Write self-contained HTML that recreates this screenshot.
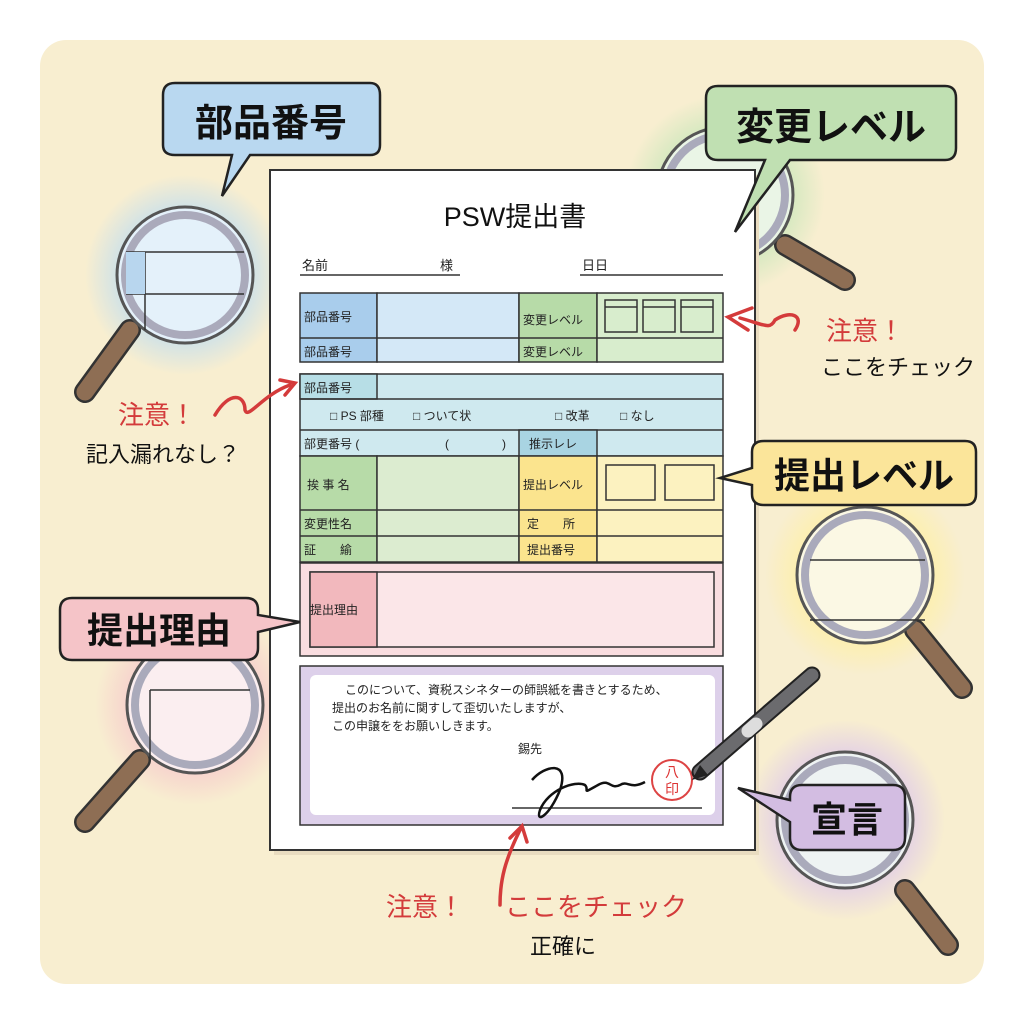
<!DOCTYPE html>
<html><head><meta charset="utf-8"><style>
html,body{margin:0;padding:0;background:#fff;}
svg{display:block}
text{font-family:"Liberation Sans","Noto Sans CJK JP",sans-serif;}
</style></head><body>
<svg width="1024" height="1024" viewBox="0 0 1024 1024" xmlns="http://www.w3.org/2000/svg">
<defs>
<radialGradient id="gb"><stop offset="0.6" stop-color="#bcdcf2" stop-opacity="0.8"/><stop offset="1" stop-color="#bcdcf2" stop-opacity="0"/></radialGradient>
<radialGradient id="gg"><stop offset="0.6" stop-color="#c5e6b8" stop-opacity="0.8"/><stop offset="1" stop-color="#c5e6b8" stop-opacity="0"/></radialGradient>
<radialGradient id="gy"><stop offset="0.6" stop-color="#fff0a0" stop-opacity="0.8"/><stop offset="1" stop-color="#fff0a0" stop-opacity="0"/></radialGradient>
<radialGradient id="gp"><stop offset="0.6" stop-color="#f6c6cc" stop-opacity="0.8"/><stop offset="1" stop-color="#f6c6cc" stop-opacity="0"/></radialGradient>
<radialGradient id="gv"><stop offset="0.6" stop-color="#dcc6ec" stop-opacity="0.8"/><stop offset="1" stop-color="#dcc6ec" stop-opacity="0"/></radialGradient>
</defs>
<rect x="40" y="40" width="944" height="944" rx="26" fill="#f8eed0"/>

<!-- glows -->
<circle cx="185" cy="275" r="100" fill="url(#gb)"/>
<circle cx="725" cy="195" r="100" fill="url(#gg)"/>
<circle cx="865" cy="575" r="100" fill="url(#gy)"/>
<circle cx="195" cy="705" r="100" fill="url(#gp)"/>
<circle cx="845" cy="820" r="100" fill="url(#gv)"/>

<!-- handles -->
<g stroke-linecap="round">
<line x1="130" y1="330" x2="85" y2="392" stroke="#333" stroke-width="22"/><line x1="130" y1="330" x2="85" y2="392" stroke="#8e6e54" stroke-width="17"/>
<line x1="785" y1="245" x2="845" y2="280" stroke="#333" stroke-width="22"/><line x1="785" y1="245" x2="845" y2="280" stroke="#8e6e54" stroke-width="17"/>
<line x1="915" y1="630" x2="962" y2="688" stroke="#333" stroke-width="22"/><line x1="915" y1="630" x2="962" y2="688" stroke="#8e6e54" stroke-width="17"/>
<line x1="140" y1="760" x2="85" y2="822" stroke="#333" stroke-width="22"/><line x1="140" y1="760" x2="85" y2="822" stroke="#8e6e54" stroke-width="17"/>
<line x1="905" y1="890" x2="948" y2="945" stroke="#333" stroke-width="22"/><line x1="905" y1="890" x2="948" y2="945" stroke="#8e6e54" stroke-width="17"/>
</g>
<!-- lenses -->
<g stroke="#555" stroke-width="3">
<circle cx="185" cy="275" r="68" fill="#e4f1fa"/><circle cx="185" cy="275" r="60" fill="none" stroke="#aab" stroke-width="8"/>
<circle cx="725" cy="195" r="68" fill="#eaf5e6"/><circle cx="725" cy="195" r="60" fill="none" stroke="#aab" stroke-width="8"/>
<circle cx="865" cy="575" r="68" fill="#fbf8e4"/><circle cx="865" cy="575" r="60" fill="none" stroke="#aab" stroke-width="8"/>
<circle cx="195" cy="705" r="68" fill="#fbeef0"/><circle cx="195" cy="705" r="60" fill="none" stroke="#aab" stroke-width="8"/>
<circle cx="845" cy="820" r="68" fill="#eef3f3"/><circle cx="845" cy="820" r="60" fill="none" stroke="#aab" stroke-width="8"/>
</g>
<g stroke="#333" stroke-width="1.5" fill="none">
<path d="M126 252 H244 M126 294 H244 M145 252 V330"/><rect x="126" y="252" width="19" height="42" fill="#b8d6ee" stroke="none"/>
<path d="M810 620 H925 M810 560 H925"/>
<path d="M150 690 H250 M150 690 V760"/>
</g>

<!-- paper -->
<rect x="274" y="175" width="485" height="680" fill="#e9dcc0"/>
<rect x="270" y="170" width="485" height="680" fill="#fff" stroke="#333" stroke-width="2"/>
<text x="515" y="226" font-size="27" text-anchor="middle" fill="#111">PSW提出書</text>
<text x="302" y="270" font-size="13" fill="#222">名前</text>
<text x="440" y="270" font-size="13" fill="#222">様</text>
<text x="582" y="270" font-size="13" fill="#222">日日</text>
<path d="M300 275 H460 M580 275 H723" stroke="#333" stroke-width="1.5"/>

<g stroke="#333" stroke-width="1.5">
<!-- section 1 -->
<rect x="300" y="293" width="77" height="69" fill="#a9cdec"/>
<rect x="377" y="293" width="142" height="69" fill="#d4e8f7"/>
<rect x="519" y="293" width="78" height="69" fill="#b7dba8"/>
<rect x="597" y="293" width="126" height="69" fill="#d8edcd"/>
<line x1="300" y1="338" x2="723" y2="338"/>
<rect x="605" y="300" width="32" height="32" fill="none"/><rect x="643" y="300" width="32" height="32" fill="none"/><rect x="681" y="300" width="32" height="32" fill="none"/>
<path d="M605 307H637M643 307H675M681 307H713" fill="none"/>
<!-- section 2 -->
<rect x="300" y="374" width="423" height="82" fill="#cfe9ef"/>
<rect x="300" y="374" width="77" height="25" fill="#b7dee6"/>
<line x1="300" y1="399" x2="723" y2="399"/><line x1="300" y1="430" x2="723" y2="430"/>
<rect x="519" y="430" width="78" height="26" fill="#a9d4e2"/>
<rect x="300" y="456" width="77" height="106" fill="#b7dba8"/>
<rect x="377" y="456" width="142" height="106" fill="#dcecd0"/>
<rect x="519" y="456" width="78" height="106" fill="#fbe48e"/>
<rect x="597" y="456" width="126" height="106" fill="#fcf2c0"/>
<line x1="300" y1="510" x2="723" y2="510"/><line x1="300" y1="536" x2="723" y2="536"/>
<rect x="606" y="465" width="49" height="35" fill="none"/><rect x="665" y="465" width="49" height="35" fill="none"/>
<!-- section 3 -->
<rect x="300" y="563" width="423" height="93" fill="#f9dde0"/>
<rect x="310" y="572" width="404" height="75" fill="#fbe6e8"/>
<rect x="310" y="572" width="67" height="75" fill="#f2b8bd"/>
<!-- section 4 -->
<rect x="300" y="666" width="423" height="159" fill="#ddd0ea"/>
</g>
<rect x="310" y="675" width="405" height="140" rx="6" fill="#fff"/>

<g font-size="12" fill="#222">
<text x="304" y="321">部品番号</text><text x="304" y="356">部品番号</text>
<text x="523" y="324">変更レベル</text><text x="523" y="356">変更レベル</text>
<text x="304" y="392">部品番号</text>
<text x="330" y="420">□ PS 部種</text><text x="413" y="420">□ ついて状</text><text x="555" y="420">□ 改革</text><text x="620" y="420">□ なし</text>
<text x="304" y="448">部更番号 (</text><text x="445" y="448">(</text><text x="502" y="448">)</text><text x="529" y="448">推示レレ</text>
<text x="307" y="489">挨 事 名</text><text x="523" y="489">提出レベル</text>
<text x="304" y="528">変更性名</text><text x="527" y="528">定　　所</text>
<text x="304" y="554">証　　緰</text><text x="527" y="554">提出番号</text>
<text x="310" y="614">提出理由</text>
<text x="345" y="694">このについて、資税スシネターの師誤紙を書きとするため、</text>
<text x="332" y="712">提出のお名前に関すして歪切いたしますが、</text>
<text x="332" y="730">この申譲ををお願いしきます。</text>
<text x="518" y="753">錫先</text>
</g>
<line x1="512" y1="808" x2="702" y2="808" stroke="#333" stroke-width="1.5"/>
<path d="M532 780 C545 765 570 760 560 790 C550 815 535 825 540 810 C548 790 575 780 585 785 C590 790 580 795 598 785 C610 778 610 790 620 785 C628 780 630 790 645 782" stroke="#111" stroke-width="2.5" fill="none"/>
<circle cx="672" cy="780" r="20" fill="#fff" stroke="#d44" stroke-width="2"/>
<text x="672" y="777" font-size="14" fill="#d33" text-anchor="middle">八</text>
<text x="672" y="794" font-size="14" fill="#d33" text-anchor="middle">印</text>
<!-- pen -->
<g stroke-linecap="round">
<line x1="700" y1="772" x2="812" y2="675" stroke="#222" stroke-width="17"/>
<line x1="700" y1="772" x2="812" y2="675" stroke="#6b6b6e" stroke-width="13"/>
<line x1="748" y1="731" x2="756" y2="724" stroke="#ddd" stroke-width="13"/>
</g>
<path d="M692 780 L700 765 L708 775 Z" fill="#222"/>

<!-- bubbles -->
<g stroke="#222" stroke-width="2.5">
<path d="M175 83 H370 Q380 83 380 95 V145 Q380 155 370 155 H250 L222 196 L232 155 H175 Q163 155 163 145 V95 Q163 83 175 83Z" fill="#b9d8f0"/>
<path d="M718 86 H945 Q956 86 956 98 V148 Q956 160 945 160 H790 L735 232 L765 160 H718 Q706 160 706 148 V98 Q706 86 718 86Z" fill="#c0e0b2"/>
<path d="M764 441 H965 Q976 441 976 452 V494 Q976 505 965 505 H764 Q752 505 752 494 V485 L720 478 L752 468 V452 Q752 441 764 441Z" fill="#fbe59a"/>
<path d="M72 598 H246 Q258 598 258 610 V615 L300 622 L258 632 V648 Q258 660 246 660 H72 Q60 660 60 648 V610 Q60 598 72 598Z" fill="#f5c4c8"/>
<path d="M802 785 H893 Q905 785 905 797 V838 Q905 850 893 850 H802 Q790 850 790 838 V822 L738 788 L790 800 V797 Q790 785 802 785Z" fill="#d3bde2"/>
</g>
<g font-weight="bold" fill="#111" text-anchor="middle">
<text x="271" y="136" font-size="38">部品番号</text>
<text x="831" y="140" font-size="38">変更レベル</text>
<text x="864" y="488" font-size="36">提出レベル</text>
<text x="159" y="643" font-size="36">提出理由</text>
<text x="847" y="832" font-size="36">宣言</text>
</g>

<!-- red annotations -->
<g stroke="#d43b3b" stroke-width="3.5" fill="none" stroke-linecap="round">
<path d="M215 415 C230 390 245 395 245 410 C248 420 262 395 290 385"/>
<path d="M280 380 L295 383 L285 395"/>
<path d="M795 330 C805 315 790 310 775 320 C770 330 765 325 740 318"/>
<path d="M752 308 L728 317 L748 330"/>
<path d="M500 905 C500 880 505 860 520 830"/>
<path d="M510 838 L522 826 L527 842"/>
</g>
<g fill="#d33b3b" font-size="26">
<text x="118" y="424">注意！</text>
<text x="826" y="340">注意！</text>
<text x="386" y="916">注意！</text>
<text x="505" y="916">ここをチェック</text>
</g>
<g fill="#111" font-size="22">
<text x="86" y="462">記入漏れなし？</text>
<text x="821" y="375">ここをチェック</text>
<text x="530" y="954">正確に</text>
</g>
</svg>
</body></html>
